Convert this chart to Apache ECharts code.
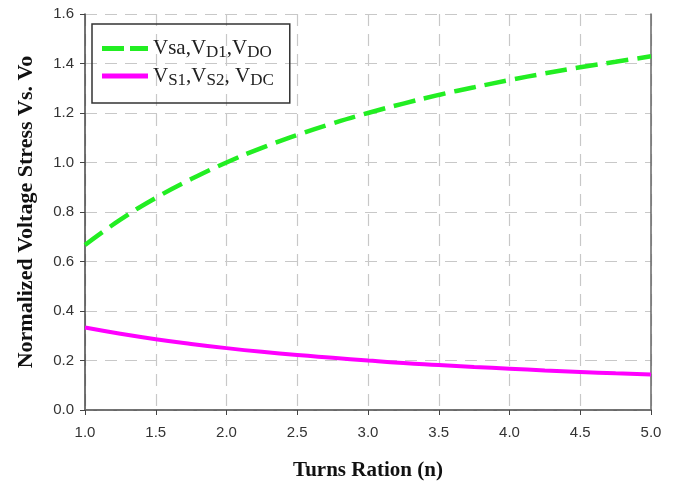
<!DOCTYPE html>
<html>
<head>
<meta charset="utf-8">
<script src="https://cdn.jsdelivr.net/npm/echarts@6/dist/echarts.min.js"></script>
<style>
  html, body { margin: 0; padding: 0; background: #fff; }
  #chart { width: 678px; height: 483px; }
</style>
</head>
<body>
<div id="chart"></div>
<script>
// turns ratio n, sampled every 0.25
const turns = [1.0, 1.25, 1.5, 1.75, 2.0, 2.25, 2.5, 2.75, 3.0, 3.25, 3.5, 3.75, 4.0, 4.25, 4.5, 4.75, 5.0]
// Vsa, VD1, VDO (green dashed)
const stressDiode = [0.667, 0.769, 0.857, 0.933, 1.0, 1.059, 1.111, 1.158, 1.2, 1.238, 1.273, 1.304, 1.333, 1.36, 1.385, 1.407, 1.429]
// VS1, VS2, VDC (magenta)
const stressSwitch = [0.333, 0.308, 0.286, 0.267, 0.25, 0.235, 0.222, 0.211, 0.2, 0.19, 0.182, 0.174, 0.167, 0.16, 0.154, 0.148, 0.143]
const seriesNames = ['green', 'magenta']

const serif = 'Liberation Serif, Times New Roman, serif'
const sans = 'Liberation Sans, Arial, sans-serif'

const chart = echarts.init(document.getElementById('chart'))

const legendRich = {
  base: { fontFamily: serif, fontSize: 21, color: '#222' },
  sub: { fontFamily: serif, fontSize: 17, color: '#222', verticalAlign: 'bottom', padding: [9, 0, 0, 0] }
}

chart.setOption({
  animation: false,
  grid: { left: 85, right: 27, top: 14, bottom: 73, outerBoundsMode: 'none', containLabel: false },
  legend: {
    left: 92,
    top: 24,
    orient: 'vertical',
    itemWidth: 46,
    itemHeight: 5,
    itemGap: 4,
    padding: [14, 16, 14, 10],
    borderColor: '#333',
    borderWidth: 1.5,
    borderRadius: 0,
    data: [
      { name: seriesNames[0], icon: 'path://M0,0H22V5H0Z M28,0H46V5H28Z', itemStyle: { color: '#22ee22' } },
      { name: seriesNames[1], icon: 'rect', itemStyle: { color: '#ff00ff' } }
    ],
    formatter: name => name === 'green'
      ? '{base|Vsa,V}{sub|D1}{base|,V}{sub|DO}'
      : '{base|V}{sub|S1}{base|,V}{sub|S2}{base|, V}{sub|DC}',
    textStyle: { rich: legendRich }
  },
  xAxis: [{
    type: 'value',
    min: 1, max: 5, interval: 0.5,
    name: 'Turns Ration (n)',
    nameLocation: 'middle',
    nameGap: 50,
    nameTextStyle: { fontFamily: serif, fontWeight: 'bold', fontSize: 21, color: '#111' },
    axisLine: { show: true, onZero: false, lineStyle: { color: '#444', width: 1.5 } },
    axisTick: { show: true, inside: false, length: 5, lineStyle: { color: '#444' } },
    axisLabel: { fontFamily: sans, fontSize: 15, color: '#333', margin: 15, formatter: v => v.toFixed(1) },
    splitLine: { show: true, lineStyle: { type: [12, 8], color: '#c8c8c8', width: 1.2 } }
  }, {
    type: 'value',
    position: 'top',
    min: 1, max: 5, interval: 0.5,
    axisLine: { show: true, lineStyle: { type: [8, 12], color: '#777', width: 1.5 } },
    axisTick: { show: false },
    axisLabel: { show: false },
    splitLine: { show: false }
  }],
  yAxis: [{
    type: 'value',
    min: 0, max: 1.6, interval: 0.2,
    name: 'Normalized Voltage Stress Vs. Vo',
    nameLocation: 'middle',
    nameGap: 48,
    nameTextStyle: { fontFamily: serif, fontWeight: 'bold', fontSize: 22, color: '#111' },
    axisLine: { show: true, onZero: false, lineStyle: { color: '#444', width: 1.5 } },
    axisTick: { show: true, inside: false, length: 5, lineStyle: { color: '#444' } },
    axisLabel: { fontFamily: sans, fontSize: 15, color: '#333', margin: 11, formatter: v => v.toFixed(1) },
    splitLine: { show: true, lineStyle: { type: [12, 8], color: '#c8c8c8', width: 1.2 } }
  }, {
    type: 'value',
    position: 'right',
    min: 0, max: 1.6, interval: 0.2,
    axisLine: { show: true, lineStyle: { color: '#666', width: 1.5 } },
    axisTick: { show: false },
    axisLabel: { show: false },
    splitLine: { show: false }
  }],
  series: [{
    name: seriesNames[0],
    type: 'line',
    smooth: true,
    showSymbol: false,
    data: turns.map((n, i) => [n, stressDiode[i]]),
    lineStyle: { color: '#22ee22', width: 4.5, type: [22, 9] },
    itemStyle: { color: '#22ee22' }
  }, {
    name: seriesNames[1],
    type: 'line',
    smooth: true,
    showSymbol: false,
    data: turns.map((n, i) => [n, stressSwitch[i]]),
    lineStyle: { color: '#ff00ff', width: 4 },
    itemStyle: { color: '#ff00ff' }
  }]
})
</script>
</body>
</html>
